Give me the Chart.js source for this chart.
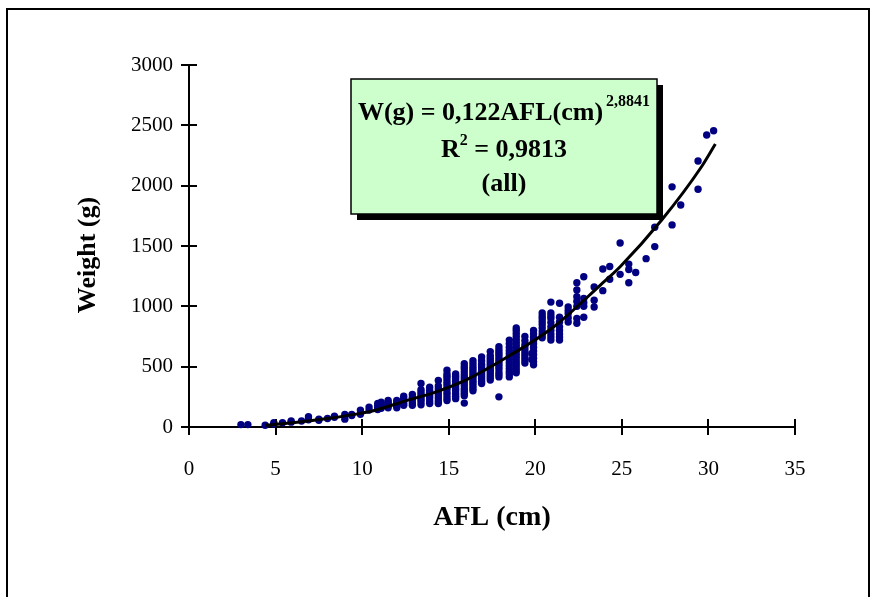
<!DOCTYPE html>
<html>
<head>
<meta charset="utf-8">
<script src="https://cdn.jsdelivr.net/npm/chart.js@4"></script>
<style>
  html, body { margin: 0; padding: 0; background: #fff; }
</style>
</head>
<body>
<canvas id="myChart" width="875" height="597"></canvas>
<script>
// data block: AFL classes (cm) and the weights (g) read in each class
const aflClasses = [
  3.0, 3.4, 4.4, 4.9, 5.4, 5.9, 6.5, 6.9, 7.5, 8.0, 8.4, 9.0, 9.4, 9.9,
  10.4, 10.9, 11.1, 11.5, 12.0, 12.4, 12.9, 13.4, 13.9, 14.4, 14.9, 15.4, 15.9,
  16.4, 16.9, 17.4, 17.9, 18.5, 18.9, 19.4, 19.8, 19.9, 20.4, 20.9, 21.4, 21.9,
  22.4, 22.8, 23.4, 23.9, 24.3, 24.9, 25.4, 25.8, 26.4, 26.9, 27.9, 28.4, 29.4,
  29.9, 30.3
];
const weightsByClass = [
  [20], [20], [15], [25, 35], [35], [40, 50], [50], [60, 85], [55, 65], [70], [80, 90], [65, 105], [95, 105], [105, 140],
  [140, 165], [145, 160, 175, 195], [155, 170, 185, 205], [160, 175, 190, 205, 220], [160, 175, 190, 205, 220],
  [180, 195, 215, 235, 255], [180, 200, 225, 245, 270],
  [185, 210, 230, 250, 270, 290, 310, 360],
  [195, 215, 240, 260, 285, 305, 330],
  [195, 215, 240, 265, 290, 315, 340, 385],
  [220, 240, 265, 285, 310, 330, 355, 375, 400, 420, 440, 470],
  [235, 255, 275, 300, 320, 340, 360, 380, 400, 420, 440],
  [198, 260, 280, 300, 320, 345, 365, 390, 410, 430, 455, 480, 500, 525],
  [300, 320, 340, 360, 380, 400, 420, 440, 460, 480, 500, 525, 550],
  [360, 380, 400, 420, 440, 460, 480, 500, 520, 550, 580],
  [390, 410, 430, 450, 470, 490, 510, 530, 550, 570, 590, 625],
  [250, 415, 435, 455, 480, 500, 520, 540, 560, 580, 600, 620, 640, 665],
  [415, 440, 460, 485, 510, 535, 560, 585, 610, 635, 660, 690, 720],
  [450, 475, 500, 525, 550, 575, 600, 625, 650, 675, 700, 725, 750, 775, 800, 820],
  [530, 555, 580, 605, 630, 655, 680, 715, 750],
  [560, 610],
  [515, 540, 570, 600, 630, 660, 690, 715, 740, 770, 800],
  [740, 765, 790, 820, 850, 875, 900, 920, 945],
  [720, 745, 770, 800, 830, 865, 900, 920, 945, 1035],
  [720, 745, 770, 800, 830, 870, 910, 1025],
  [870, 905, 940, 965, 995],
  [860, 900, 1000, 1040, 1080, 1135, 1195],
  [910, 1000, 1030, 1065, 1245],
  [995, 1050, 1160], [1130, 1310], [1225, 1330], [1265, 1525], [1195, 1305, 1350],
  [1280], [1395], [1495, 1655], [1675, 1990], [1840], [1970, 2205],
  [2420], [2455]
];

// power trend line
const trendAfl    = [4.4, 6, 8, 9.9, 10.65, 12.8, 14.15, 16.07, 18.5, 21.07, 23.76, 24.9, 27.3, 29.6, 30.4];
const trendWeight = [15, 35, 70, 113, 135, 229, 285, 395, 590, 831, 1176, 1328, 1715, 2157, 2345];

const xTicks = [0, 5, 10, 15, 20, 25, 30, 35];
const yTicks = [0, 500, 1000, 1500, 2000, 2500, 3000];

const xTitle = 'AFL (cm)';
const yTitle = 'Weight (g)';
const eqMain = 'W(g) = 0,122AFL(cm)';
const eqExp = '2,8841';
const r2Value = ' = 0,9813';
const groupLabel = '(all)';

const points = [];
aflClasses.forEach((x, i) => {
    weightsByClass[i].forEach(w => points.push({x: x, y: w}));
});
const trendPoints = trendAfl.map((x, i) => ({x: x, y: trendWeight[i]}));

const serif = "'Liberation Serif', 'Times New Roman', serif";

// frame, crossing ticks, y title and equation box
const excelBits = {
    id: 'excelBits',
    beforeDraw(chart) {
        const {ctx} = chart;
        ctx.save();
        ctx.fillStyle = '#fff';
        ctx.fillRect(0, 0, chart.width, chart.height);
        ctx.strokeStyle = '#000';
        ctx.lineWidth = 2;
        ctx.strokeRect(7, 9, 862, 700);

        ctx.translate(88, 255);
        ctx.rotate(-Math.PI / 2);
        ctx.fillStyle = '#000';
        ctx.font = 'bold 26px ' + serif;
        ctx.textAlign = 'center';
        ctx.textBaseline = 'middle';
        ctx.fillText(yTitle, 0, 0);
        ctx.restore();
    },
    afterDatasetsDraw(chart) {
        const {ctx, scales: {x, y}} = chart;
        ctx.save();
        ctx.strokeStyle = '#000';
        ctx.lineWidth = 2;
        ctx.beginPath();
        xTicks.forEach(v => {
            const px = Math.round(x.getPixelForValue(v));
            ctx.moveTo(px, y.bottom - 8);
            ctx.lineTo(px, y.bottom + 8);
        });
        yTicks.forEach(v => {
            const py = Math.round(y.getPixelForValue(v));
            ctx.moveTo(x.left - 8, py);
            ctx.lineTo(x.left + 8, py);
        });
        ctx.stroke();

        // equation box with shadow
        const bx = 351, by = 79, bw = 306, bh = 135;
        ctx.fillStyle = '#000';
        ctx.fillRect(bx + 6, by + 6, bw, bh);
        ctx.fillStyle = '#ccffcc';
        ctx.fillRect(bx, by, bw, bh);
        ctx.lineWidth = 1.5;
        ctx.strokeRect(bx, by, bw, bh);

        const cx = bx + bw / 2;
        ctx.fillStyle = '#000';
        ctx.textBaseline = 'alphabetic';
        ctx.textAlign = 'left';
        const big = 'bold 26px ' + serif;
        const small = 'bold 16px ' + serif;

        ctx.font = big;
        const w1 = ctx.measureText(eqMain).width;
        ctx.font = small;
        const w2 = ctx.measureText(eqExp).width;
        let sx = cx - (w1 + w2 + 3) / 2;
        ctx.font = big;
        ctx.fillText(eqMain, sx, 120);
        ctx.font = small;
        ctx.fillText(eqExp, sx + w1 + 3, 106);

        ctx.font = big;
        const wr = ctx.measureText('R').width;
        const wv = ctx.measureText(r2Value).width;
        ctx.font = small;
        const ws = ctx.measureText('2').width;
        sx = cx - (wr + ws + wv) / 2;
        ctx.font = big;
        ctx.fillText('R', sx, 157);
        ctx.font = small;
        ctx.fillText('2', sx + wr, 145);
        ctx.font = big;
        ctx.fillText(r2Value, sx + wr + ws, 157);

        ctx.textAlign = 'center';
        ctx.fillText(groupLabel, cx, 191);
        ctx.restore();
    }
};

// config block
const config = {
    type: 'scatter',
    data: {
        datasets: [{
            type: 'line',
            label: 'Power (all)',
            data: trendPoints,
            borderColor: '#000',
            borderWidth: 3,
            pointRadius: 0,
            fill: false,
            cubicInterpolationMode: 'monotone',
            order: 0
        }, {
            label: 'all',
            data: points,
            backgroundColor: '#000080',
            borderColor: '#000080',
            borderWidth: 0,
            pointRadius: 3.7,
            clip: false,
            order: 1
        }]
    },
    options: {
        responsive: false,
        animation: false,
        devicePixelRatio: 1,
        layout: {padding: {left: 0, top: 65, right: 80, bottom: 0}},
        plugins: {
            legend: {display: false},
            tooltip: {enabled: false}
        },
        scales: {
            x: {
                type: 'linear',
                min: 0,
                max: 35,
                afterFit(scale) { scale.height = 170; },
                afterBuildTicks(scale) { scale.ticks = xTicks.map(v => ({value: v})); },
                ticks: {color: '#000', padding: 22, font: {family: serif, size: 21}, callback: v => String(v)},
                grid: {display: false, drawTicks: true, tickLength: 8},
                border: {display: true, color: '#000', width: 2},
                title: {
                    display: true,
                    text: xTitle,
                    color: '#000',
                    font: {family: serif, size: 28, weight: 'bold'},
                    padding: {top: 0, bottom: 62}
                }
            },
            y: {
                type: 'linear',
                min: 0,
                max: 3000,
                afterFit(scale) { scale.width = 189; },
                afterBuildTicks(scale) { scale.ticks = yTicks.map(v => ({value: v})); },
                ticks: {color: '#000', padding: 8, font: {family: serif, size: 21}, callback: v => String(v)},
                grid: {display: false, drawTicks: true, tickLength: 8},
                border: {display: true, color: '#000', width: 2}
            }
        }
    },
    plugins: [excelBits]
};

// init render block
const myChart = new Chart(document.getElementById('myChart'), config);
</script>
</body>
</html>
